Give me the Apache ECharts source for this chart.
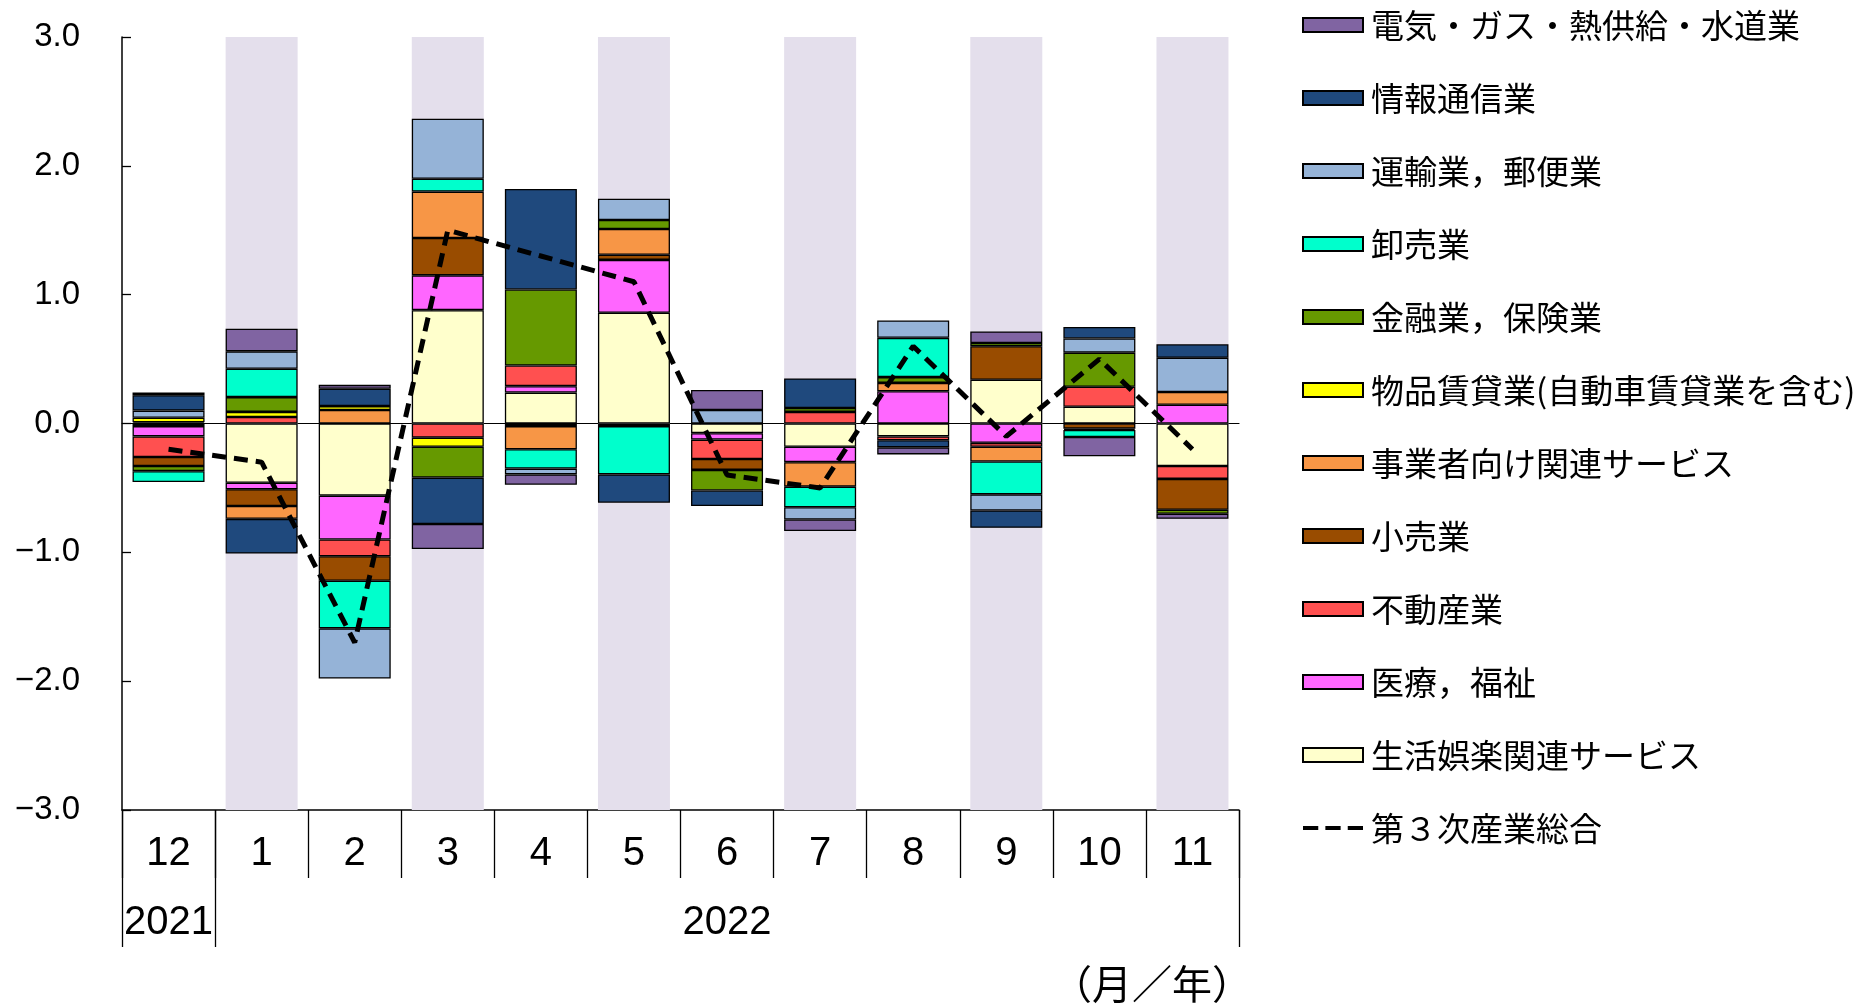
<!DOCTYPE html>
<html>
<head>
<meta charset="utf-8">
<script src="https://cdn.jsdelivr.net/npm/echarts@6/dist/echarts.min.js"></script>
<style>
html, body { margin: 0; padding: 0; background: #fff; }
#chart { width: 1865px; height: 1005px; }
</style>
</head>
<body>
<div id="chart"></div>
<script>
// Months (Dec 2021 – Nov 2022) and the year row beneath them
const months = ['12', '1', '2', '3', '4', '5', '6', '7', '8', '9', '10', '11'];
const yearLabels = ['2021', '', '', '', '', '', '2022', '', '', '', '', ''];
const yTickLabels = ['−3.0', '−2.0', '−1.0', '0.0', '1.0', '2.0', '3.0'];

// Contribution of each industry (percentage points)
const leisure     = [-0.02, -0.46, -0.56, 0.88, 0.24, 0.86, -0.075, -0.18, -0.10, 0.34, 0.13, -0.33];
const medical     = [-0.08, -0.05, -0.34, 0.27, 0.05, 0.41, -0.05, -0.12, 0.25, -0.15, null, 0.145];
const realEstate  = [-0.16, 0.05, -0.13, -0.11, 0.16, -0.02, -0.15, 0.09, -0.03, -0.03, 0.155, -0.10];
const retail      = [-0.07, -0.13, -0.19, 0.29, -0.02, 0.04, -0.085, null, null, 0.26, -0.04, -0.24];
const business    = [0.01, -0.10, 0.105, 0.36, -0.18, 0.20, null, -0.19, 0.065, -0.115, null, 0.10];
const rental      = [0.035, 0.04, 0.03, -0.07, null, null, null, null, null, null, -0.01, null];
const finance     = [-0.04, 0.115, null, -0.24, 0.59, 0.07, -0.16, 0.03, 0.045, 0.025, 0.265, -0.03];
const wholesale   = [-0.085, 0.22, -0.37, 0.10, -0.15, -0.375, null, -0.16, 0.305, -0.255, -0.055, null];
const transport   = [0.055, 0.135, -0.39, 0.465, -0.045, 0.165, 0.105, -0.095, 0.135, -0.125, 0.11, 0.265];
const infoComm    = [0.12, -0.27, 0.135, -0.36, 0.78, -0.22, -0.12, 0.23, -0.055, -0.135, 0.09, 0.105];
const utilities   = [0.02, 0.175, 0.03, -0.195, -0.08, null, 0.155, -0.09, -0.055, 0.09, -0.15, -0.04];

// Tertiary industry activity index, overall (month-on-month change)
const tertiaryTotal = [-0.2, -0.3, -1.7, 1.5, 1.3, 1.1, -0.4, -0.5, 0.6, -0.1, 0.5, -0.2];

// Shaded columns behind every other month
const shadeUp   = ['-', 3, '-', 3, '-', 3, '-', 3, '-', 3, '-', 3];
const shadeDown = ['-', -3, '-', -3, '-', -3, '-', -3, '-', -3, '-', -3];

// Stacking order, from the zero line outward
const segments = [
  ['生活娯楽関連サービス', '#FFFFCC', leisure],
  ['医療，福祉', '#FF66FF', medical],
  ['不動産業', '#FF5050', realEstate],
  ['小売業', '#994C00', retail],
  ['事業者向け関連サービス', '#F79646', business],
  ['物品賃貸業(自動車賃貸業を含む)', '#FFFF00', rental],
  ['金融業，保険業', '#669900', finance],
  ['卸売業', '#00FFCC', wholesale],
  ['運輸業，郵便業', '#95B3D7', transport],
  ['情報通信業', '#1F497D', infoComm],
  ['電気・ガス・熱供給・水道業', '#8064A2', utilities]
];
const lineName = '第３次産業総合';

const JP = '"Noto Sans CJK JP", "Noto Sans", sans-serif';
const NUM = '"Liberation Sans", Arial, sans-serif';
const BAR_W = 72;
// three short dashes, used as the legend key of the dashed line
const DASH_ICON = 'path://M0,0h15v4h-15z M22,0h15v4h-15z M44,0h15v4h-15z';

const series = [];
[shadeUp, shadeDown].forEach(function (d) {
  series.push({
    type: 'bar', stack: 'shade', data: d, barWidth: BAR_W, barGap: '-100%',
    itemStyle: { color: '#E4DFEC' }, silent: true, z: 1
  });
});
segments.forEach(function (s) {
  series.push({
    name: s[0], type: 'bar', stack: 'total', data: s[2], barWidth: BAR_W, barGap: '-100%',
    itemStyle: { color: s[1], borderColor: '#000', borderWidth: 1.3 }, z: 3
  });
});
series.push({
  name: lineName, type: 'line', data: tertiaryTotal, symbol: 'none', z: 5,
  itemStyle: { color: '#000' },
  lineStyle: { color: '#000', width: 5, type: [14, 8] }
});

const legendNames = segments.map(function (s) { return s[0]; }).reverse();
const legendData = legendNames.map(function (n) { return { name: n }; })
  .concat([{ name: lineName, icon: DASH_ICON, itemStyle: { borderWidth: 0 } }]);

const chart = echarts.init(document.getElementById('chart'), null, { renderer: 'canvas' });
chart.setOption({
  animation: false,
  backgroundColor: '#fff',
  title: {
    text: '（月／年）', right: 608, top: 956,
    textStyle: { fontFamily: JP, fontSize: 40, fontWeight: 'normal', color: '#000', lineHeight: 46 }
  },
  legend: {
    data: legendData, orient: 'vertical', left: 1297, top: 2, icon: 'rect',
    itemWidth: 60, itemHeight: 14, itemGap: 37, selectedMode: false,
    textStyle: { fontFamily: JP, fontSize: 33, color: '#000', lineHeight: 36, padding: [0, 0, 0, 3] }
  },
  grid: { left: 122, right: 626, top: 37, bottom: 195 },
  xAxis: [
    {
      type: 'category', data: months, position: 'bottom',
      axisLine: { onZero: false, lineStyle: { color: '#000', width: 1.5 } },
      axisTick: { show: true, interval: 0, length: 68, lineStyle: { color: '#000', width: 1.3 } },
      axisLabel: { interval: 0, margin: 24, fontFamily: NUM, fontSize: 40, color: '#000' },
      splitLine: { show: false }
    },
    {
      type: 'category', data: months, position: 'bottom',
      axisLine: { show: false, onZero: false },
      axisTick: {
        show: true, length: 137, lineStyle: { color: '#000', width: 1.3 },
        interval: function (i) { return i === 0 || i === 1; }
      },
      axisLabel: {
        interval: 0, margin: 93, fontFamily: NUM, fontSize: 40, color: '#000',
        formatter: function (v, i) { return yearLabels[i]; }
      },
      splitLine: { show: false }
    },
    {
      type: 'category', data: months, position: 'bottom',
      axisLine: { show: true, onZero: true, onZeroAxisIndex: 0, lineStyle: { color: '#000', width: 1.2 } },
      axisTick: { show: false }, axisLabel: { show: false }, splitLine: { show: false }
    }
  ],
  yAxis: {
    type: 'value', min: -3, max: 3, interval: 1,
    axisLine: { show: true, lineStyle: { color: '#000', width: 1.5 } },
    axisTick: { show: true, inside: true, length: 9, lineStyle: { color: '#000', width: 1.3 } },
    axisLabel: {
      margin: 42, fontFamily: NUM, fontSize: 33, color: '#000',
      formatter: function (v) { return yTickLabels[Math.round(v) + 3]; }
    },
    splitLine: { show: false }
  },
  series: series
});
</script>
</body>
</html>
